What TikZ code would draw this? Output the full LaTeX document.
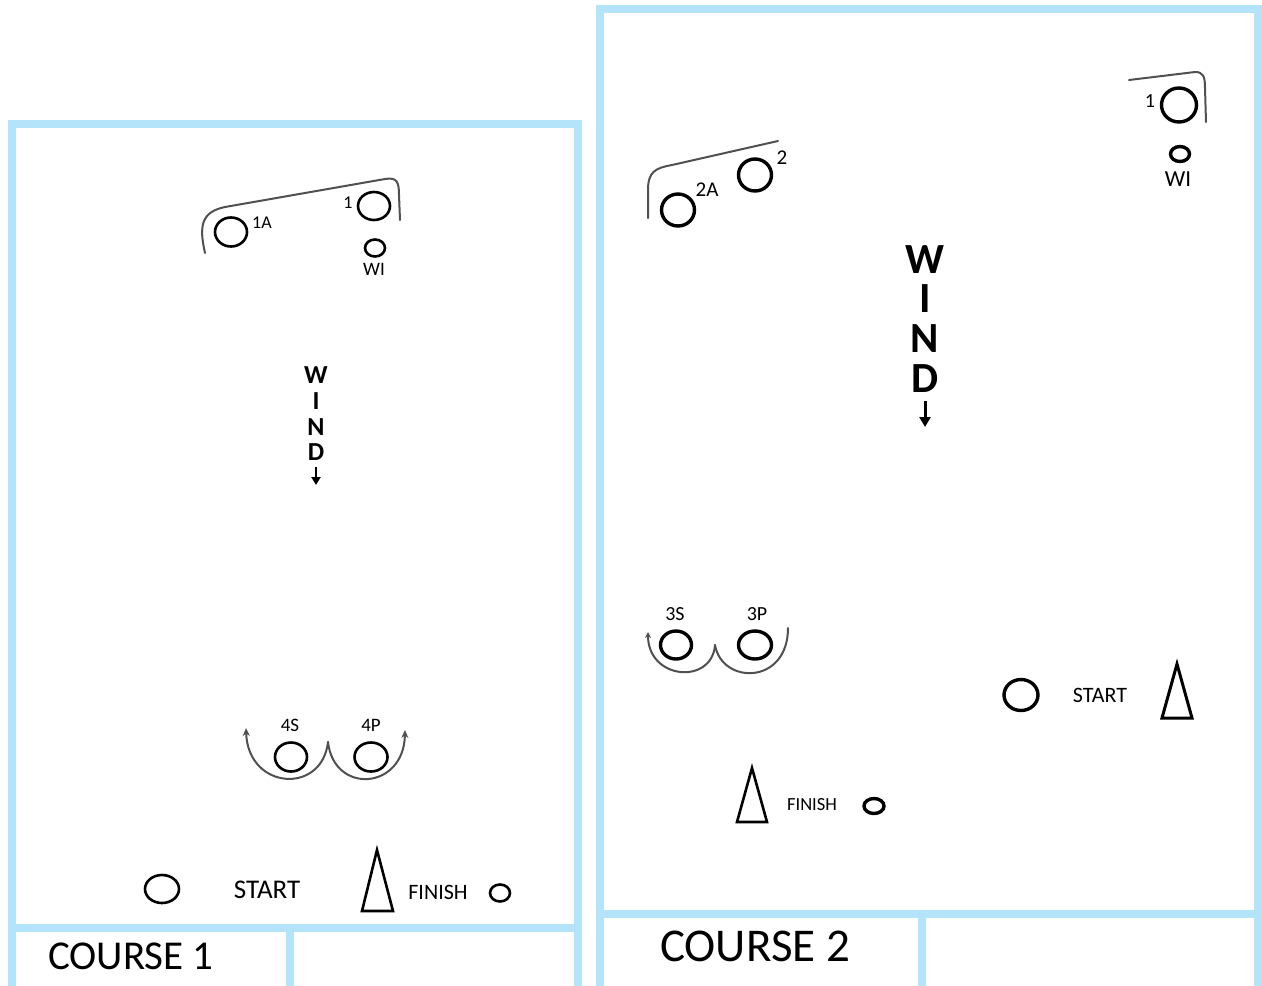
\documentclass[tikz,border=0pt]{standalone}
\usepackage{fontspec}
\setmainfont{Carlito}
\usetikzlibrary{arrows.meta,shapes.geometric}
\definecolor{frameblue}{RGB}{180,228,250}
\definecolor{curvegray}{RGB}{80,80,80}
\begin{document}
\begin{tikzpicture}[x=1pt,y=-1pt,
  frameline/.style={draw=frameblue,line width=8pt},
  buoyA/.style={draw=black,line width=2.6pt,ellipse,inner sep=0pt},
  buoyB/.style={draw=black,line width=3.4pt,ellipse,inner sep=0pt},
  cone/.style={draw=black,line width=2.6pt,line join=miter},
  rounding/.style={draw=curvegray,line width=2pt,line cap=round},
  lbl/.style={inner sep=0pt,text=black},
  windword/.style={inner sep=0pt,align=center,anchor=north},
  windarrow/.style={line width=2.4pt,-{Triangle[width=9pt,length=8pt]}}]
\useasboundingbox (0,0) rectangle (1262,986);
\begin{scope}
\clip (0,0) rectangle (1262,986);
% ---------- frames ----------
\draw[frameline] (12,995) -- (12,124) -- (578,124) -- (578,995);
\draw[frameline] (12,928) -- (578,928);
\draw[frameline] (290,928) -- (290,995);
\draw[frameline] (600,995) -- (600,9) -- (1258,9) -- (1258,995);
\draw[frameline] (600,914) -- (1258,914);
\draw[frameline] (922,914) -- (922,995);
\end{scope}

% ================= COURSE 1 =================
\node[buoyA,minimum width=32pt,minimum height=28pt] (c1m1) at (374,206) {};
\node[lbl,font=\fontsize{18}{18}\selectfont] (c1l1) at (348,203) {1};
\node[buoyA,minimum width=32pt,minimum height=29pt] (c1m1a) at (231,232) {};
\node[lbl,font=\fontsize{18}{18}\selectfont] (c1l1a) at (262,223) {1A};
\node[buoyA,minimum width=20pt,minimum height=17pt] (c1wi) at (375,248) {};
\node[lbl,font=\fontsize{19}{19}\selectfont] (c1lwi) at (374,269) {WI};
\draw[rounding] (205,253) .. controls (199,226) and (201,212) .. (225,207) -- (385,179) .. controls (397,177) and (399,182) .. (399,195) -- (400,220);

\node[windword,font=\fontsize{26}{25.7}\bfseries] (c1wind) at (316,366.6) {W\\I\\N\\D};
\coordinate (c1a0) at (316,467);
\coordinate (c1a1) at (316,485);
\draw[windarrow] (c1a0) -- (c1a1);

\node[buoyA,minimum width=32pt,minimum height=29pt] (c1m4s) at (291,757) {};
\node[buoyA,minimum width=33pt,minimum height=29pt] (c1m4p) at (371,757) {};
\node[lbl,font=\fontsize{19}{19}\selectfont] (c1l4s) at (290,725) {4S};
\node[lbl,font=\fontsize{19}{19}\selectfont] (c1l4p) at (371,725) {4P};
\coordinate (c1cusp) at (328,742);
\coordinate (c1left) at (246,728);
\coordinate (c1right) at (405,730);
\draw[rounding,-{Stealth[length=8pt,width=7pt]}] (c1cusp) .. controls (322,795) and (248,790) .. (c1left);
\draw[rounding,-{Stealth[length=8pt,width=7pt]}] (c1cusp) .. controls (334,795) and (404,790) .. (c1right);

\node[buoyA,minimum width=34pt,minimum height=28pt] (c1start) at (162,889) {};
\node[lbl,font=\fontsize{27}{27}\selectfont] (c1lstart) at (267,890) {START};
\draw[cone] (377,850) -- (393,911) -- (362,911) -- cycle;
\node[lbl,font=\fontsize{22}{22}\selectfont] (c1lfinish) at (438,892) {FINISH};
\node[buoyA,minimum width=20pt,minimum height=17pt] (c1finish) at (500,893) {};
\node[lbl,anchor=west,font=\fontsize{41}{41}\selectfont] (c1title) at (48,956) {COURSE 1};

% ================= COURSE 2 =================
\node[buoyB,minimum width=35pt,minimum height=34pt] (c2m1) at (1179,105) {};
\node[lbl,font=\fontsize{20}{20}\selectfont] (c2l1) at (1150,101) {1};
\node[buoyB,minimum width=19pt,minimum height=15pt] (c2wi) at (1180,154) {};
\node[lbl,font=\fontsize{23}{23}\selectfont] (c2lwi) at (1178,179) {WI};
\draw[rounding] (1129,80) -- (1195,72) .. controls (1203,72) and (1205,76) .. (1205,88) -- (1206,122);

\node[buoyB,minimum width=33pt,minimum height=32pt] (c2m2) at (755,175) {};
\node[lbl,font=\fontsize{21}{21}\selectfont] (c2l2) at (782,158) {2};
\node[buoyB,minimum width=33pt,minimum height=32pt] (c2m2a) at (678,210) {};
\node[lbl,font=\fontsize{21}{21}\selectfont] (c2l2a) at (707,190) {2A};
\draw[rounding] (648,218) -- (648,190) .. controls (648,172) and (655,168) .. (672,165) -- (778,141);

\node[windword,font=\fontsize{43}{39.7}\bfseries] (c2wind) at (925,245) {W\\I\\N\\D};
\coordinate (c2a0) at (925,401);
\coordinate (c2a1) at (925,427);
\draw[windarrow,line width=3pt,-{Triangle[width=11pt,length=10pt]}] (c2a0) -- (c2a1);

\node[buoyB,minimum width=31pt,minimum height=28pt] (c2m3s) at (676,645) {};
\node[buoyB,minimum width=33pt,minimum height=28pt] (c2m3p) at (755,645) {};
\node[lbl,font=\fontsize{20}{20}\selectfont] (c2l3s) at (675,614) {3S};
\node[lbl,font=\fontsize{20}{20}\selectfont] (c2l3p) at (757,614) {3P};
\coordinate (c2cusp) at (715,645);
\coordinate (c2left) at (648,632);
\coordinate (c2right) at (788,628);
\draw[rounding,-{Stealth[length=6pt,width=6pt]}] (c2cusp) .. controls (712,685) and (648,680) .. (c2left);
\draw[rounding] (c2cusp) .. controls (722,685) and (788,685) .. (c2right);

\node[buoyB,minimum width=34pt,minimum height=31pt] (c2start) at (1021,695) {};
\node[lbl,font=\fontsize{22}{22}\selectfont] (c2lstart) at (1100,695) {START};
\draw[cone,line width=3pt] (1177,664) -- (1192,718) -- (1162,718) -- cycle;

\draw[cone] (752,768) -- (767,822) -- (737,822) -- cycle;
\node[lbl,font=\fontsize{18.5}{18.5}\selectfont] (c2lfinish) at (812,805) {FINISH};
\node[buoyB,minimum width=20pt,minimum height=15pt] (c2finish) at (874,806) {};
\node[lbl,anchor=west,font=\fontsize{47}{47}\selectfont] (c2title) at (660,946) {COURSE 2};
\end{tikzpicture}
\end{document}
